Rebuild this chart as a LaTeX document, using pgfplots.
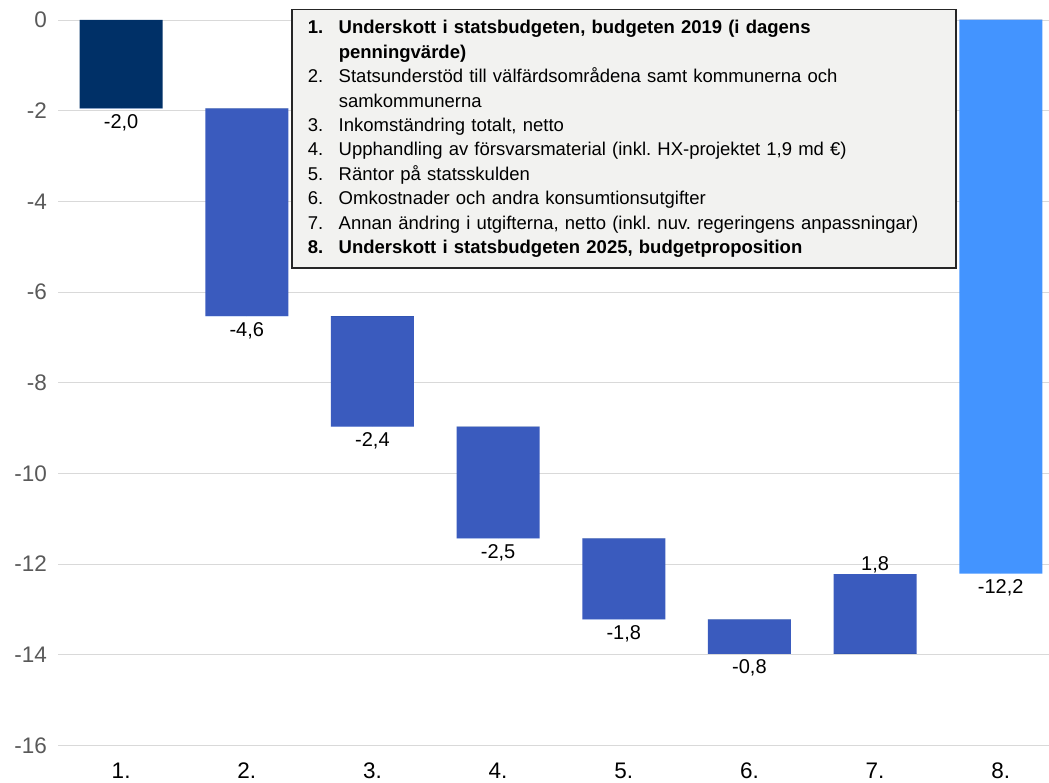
\documentclass[border=0pt]{standalone}
\usepackage{fontspec}
\setmainfont{Liberation Sans}
\usepackage{pgfplots}
\usepackage{pgfplotstable}
\pgfplotsset{compat=1.18}
\definecolor{cdark}{HTML}{003067}
\definecolor{cmid}{HTML}{3A5BBE}
\definecolor{clight}{HTML}{4394FF}
\definecolor{legfill}{HTML}{F2F2F0}
\definecolor{gridgray}{HTML}{D9D9D9}
\definecolor{tickgray}{HTML}{595959}
\frenchspacing
\pgfplotstableread{
x base d1 d2 d3
0 0 -1.95 0 0
1 -1.95 0 -4.58 0
2 -6.53 0 -2.44 0
3 -8.97 0 -2.46 0
4 -11.43 0 -1.79 0
5 -13.22 0 -0.76 0
6 -13.98 0 1.76 0
7 0 0 0 -12.21
}\bars
\pgfplotstableread{
x pos lab
0 -1.95 -2,0
1 -6.53 -4,6
2 -8.97 -2,4
3 -11.43 -2,5
4 -13.22 -1,8
5 -13.98 -0,8
7 -12.21 -12,2
}\labbelow
\pgfplotstableread{
x pos lab
6 -12.22 1,8
}\lababove
\begin{document}
\begin{tikzpicture}
\begin{axis}[
  at={(0,0)}, anchor=south west,
  scale only axis, width=990.7pt, height=725.5pt,
  xmin=-0.5, xmax=7.384, ymin=-16, ymax=0,
  stack plots=y,
  clip=false,
  axis line style={draw=none},
  major tick length=0pt,
  tick style={draw=none},
  ymajorgrids, grid style={color=gridgray, line width=0.9pt},
  xtick={0,1,2,3,4,5,6,7},
  xticklabels={1.,2.,3.,4.,5.,6.,7.,8.},
  ytick={-16,-14,-12,-10,-8,-6,-4,-2,0},
  yticklabels={-16,-14,-12,-10,-8,-6,-4,-2,0},
  xticklabel style={font=\fontsize{22.5}{26}\selectfont, text=black, anchor=base, inner sep=0pt, yshift=-32.5pt},
  yticklabel style={font=\fontsize{22.5}{26}\selectfont, text=tickgray, anchor=east, inner sep=0pt, xshift=-11.3pt},
]
\addplot[ybar, bar width=83pt, bar shift=0pt, draw=none, fill=none] table[x=x,y=base]{\bars};
\addplot[ybar, bar width=83pt, bar shift=0pt, draw=none, fill=cdark] table[x=x,y=d1]{\bars};
\addplot[ybar, bar width=83pt, bar shift=0pt, draw=none, fill=cmid] table[x=x,y=d2]{\bars};
\addplot[ybar, bar width=83pt, bar shift=0pt, draw=none, fill=clight] table[x=x,y=d3]{\bars};
\addplot[stack plots=false, only marks, mark=*, mark size=0pt, mark options={draw=none,fill=none},
  point meta=explicit symbolic, nodes near coords,
  every node near coord/.style={anchor=base, inner sep=0pt, yshift=-20pt, font=\fontsize{20}{24}\selectfont, text=black}]
  table[x=x,y=pos,meta=lab]{\labbelow};
\addplot[stack plots=false, only marks, mark=*, mark size=0pt, mark options={draw=none,fill=none},
  point meta=explicit symbolic, nodes near coords,
  every node near coord/.style={anchor=base, inner sep=0pt, yshift=4pt, font=\fontsize{20}{24}\selectfont, text=black}]
  table[x=x,y=pos,meta=lab]{\lababove};
\end{axis}
\node[anchor=north west, draw=black!85, line width=1.5pt, fill=legfill,
  inner xsep=16pt, inner ysep=10.7pt, text width=632pt, align=left,
  font=\fontsize{18.5}{24.4}\selectfont] at (232.7pt,736.5pt) {%
\textbf{\makebox[31pt][l]{1.}Underskott i statsbudgeten, budgeten 2019 (i dagens}\\
\hspace*{31pt}\textbf{penningvärde)}\\
\makebox[31pt][l]{2.}Statsunderstöd till välfärdsområdena samt kommunerna och\\
\hspace*{31pt}samkommunerna\\
\makebox[31pt][l]{3.}Inkomständring totalt, netto\\
\makebox[31pt][l]{4.}Upphandling av försvarsmaterial (inkl. HX-projektet 1,9 md €)\\
\makebox[31pt][l]{5.}Räntor på statsskulden\\
\makebox[31pt][l]{6.}Omkostnader och andra konsumtionsutgifter\\
\makebox[31pt][l]{7.}Annan ändring i utgifterna, netto (inkl. nuv. regeringens anpassningar)\\
\textbf{\makebox[31pt][l]{8.}Underskott i statsbudgeten 2025, budgetproposition}};
\pgfresetboundingbox
\useasboundingbox (-58.3pt,-36.5pt) rectangle (990.7pt,745.5pt);
\end{tikzpicture}
\end{document}
